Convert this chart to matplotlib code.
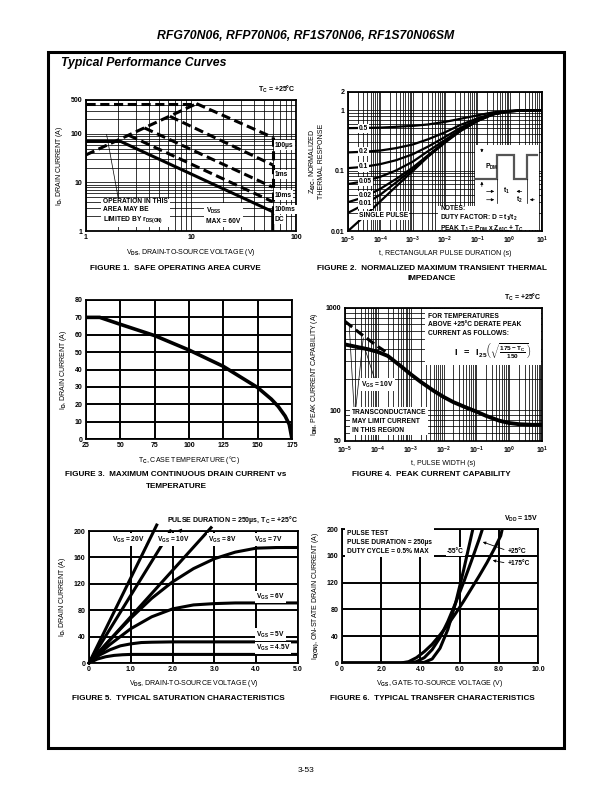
import numpy as np
import matplotlib
matplotlib.use('Agg')
import matplotlib.pyplot as plt
from matplotlib.patches import Rectangle
from matplotlib.ticker import FixedLocator, LogLocator, NullFormatter

plt.rcParams['font.family'] = ['Liberation Sans', 'DejaVu Sans']
plt.rcParams['font.weight'] = 'bold'
plt.rcParams['mathtext.fontset'] = 'custom'
plt.rcParams['mathtext.rm'] = 'Liberation Sans:bold'
plt.rcParams['mathtext.it'] = 'Liberation Sans:bold'
plt.rcParams['mathtext.bf'] = 'Liberation Sans:bold'
plt.rcParams['mathtext.sf'] = 'Liberation Sans:bold'

W, H = 612, 792
FS = 5.0      # tick / axis label size
CAP = 5.9     # figure caption size
LW = 2.2      # curve width
WHITE = dict(facecolor='white', edgecolor='none', pad=0.8)

# ---------------- figure 1: safe operating area ----------------
soa_dc_v = [1, 2.14, 60, 60]
soa_dc_i = [70, 70, 2.5, 1]
soa_rds_v = [1, 11.3]
soa_rds_i = [37, 420]
soa_idm_v = [1, 11.3]
soa_idm_i = [420, 420]
soa_100us_v = [11.3, 60]
soa_100us_i = [420, 85]
soa_1ms_v = [6.3, 60]
soa_1ms_i = [230, 23]
soa_10ms_v = [3.6, 60]
soa_10ms_i = [133, 8]
soa_100ms_v = [2.55, 60]
soa_100ms_i = [94, 4]
soa_vdss_v = [60, 60]
soa_vdss_i = [85, 2.5]

# ---------------- figure 2: transient thermal impedance ----------------
zth_t = [1e-5, 3e-5, 1e-4, 3e-4, 1e-3, 3e-3, 1e-2, 3e-2, 1e-1, 3e-1, 1, 3, 10]
zth_single = [0.010, 0.017, 0.031, 0.054, 0.098, 0.17, 0.29, 0.45, 0.66, 0.85, 0.96, 0.99, 1.0]
zth_d001 = [0.020, 0.027, 0.040, 0.063, 0.105, 0.175, 0.30, 0.46, 0.66, 0.85, 0.96, 0.99, 1.0]
zth_d002 = [0.030, 0.036, 0.050, 0.072, 0.112, 0.18, 0.30, 0.46, 0.67, 0.85, 0.96, 0.99, 1.0]
zth_d005 = [0.060, 0.066, 0.079, 0.100, 0.14, 0.21, 0.32, 0.48, 0.68, 0.86, 0.96, 0.99, 1.0]
zth_d01 = [0.110, 0.115, 0.128, 0.148, 0.186, 0.25, 0.36, 0.51, 0.70, 0.86, 0.96, 0.99, 1.0]
zth_d02 = [0.200, 0.205, 0.215, 0.235, 0.27, 0.33, 0.43, 0.57, 0.73, 0.88, 0.97, 0.99, 1.0]
zth_d05 = [0.505, 0.508, 0.515, 0.53, 0.55, 0.58, 0.64, 0.72, 0.82, 0.92, 0.98, 0.995, 1.0]
zth_labels = ['0.5', '0.2', '0.1', '0.05', '0.02', '0.01', 'SINGLE PULSE']
zth_label_y = [0.50, 0.205, 0.115, 0.066, 0.038, 0.028, 0.018]

# ---------------- figure 3: drain current vs case temperature ----------------
der_tc = [25, 35, 50, 75, 100, 125, 150, 160, 165, 170, 173, 175]
der_id = [70, 70, 66, 59.5, 51.2, 41.8, 29.6, 22.9, 18.7, 13.2, 8.4, 0]

# ---------------- figure 4: peak current capability ----------------
pk_t = [1e-5, 2e-5, 5e-5, 1e-4, 2e-4, 5e-4, 1e-3, 2e-3, 5e-3, 1e-2, 2e-2, 5e-2,
        1e-1, 2e-1, 5e-1, 1, 2, 5, 10]
pk_i = [440, 420, 395, 372, 340, 270, 225, 190, 155, 135, 120, 106,
        97, 88, 79, 75, 73, 72, 72]
pk_gm_t = [1e-5, 3e-5, 1e-4, 2.2e-4]
pk_gm_i = [740, 560, 420, 355]

# ---------------- figure 5: saturation characteristics ----------------
sat_20v_v = [0, 1.62]
sat_20v_i = [0, 209]
sat_10v_v = [0, 1.95]
sat_10v_i = [0, 200]
sat_8v_v = [0, 2.92]
sat_8v_i = [0, 205]
sat_7v_v = [0, 0.5, 1, 1.5, 2, 2.5, 3, 3.5, 4, 4.5, 5]
sat_7v_i = [0, 35, 68, 98, 123, 143, 158, 168, 174, 175, 175]
sat_6v_v = [0, 0.5, 1, 1.5, 2, 2.5, 3, 3.5, 4, 5]
sat_6v_i = [0, 28, 52, 70, 82, 88, 90, 91, 91, 91]
sat_5v_v = [0, 0.25, 0.5, 0.75, 1, 1.25, 1.5, 2, 5]
sat_5v_i = [0, 12, 20, 26, 29, 31, 31.5, 32, 32]
sat_45v_v = [0, 0.2, 0.4, 0.6, 0.8, 1, 5]
sat_45v_i = [0, 6, 9.5, 11.5, 12.5, 13, 13]

# ---------------- figure 6: transfer characteristics ----------------
tr_m55_v = [0, 3.8, 4.2, 4.6, 5.0, 5.4, 5.8, 6.2, 6.6, 6.7]
tr_m55_i = [0, 0, 1, 6, 22, 50, 90, 138, 190, 203]
tr_25_v = [0, 3.4, 3.8, 4.2, 4.6, 5.0, 5.4, 5.8, 6.2, 6.6, 7.0, 7.2]
tr_25_i = [0, 0, 2, 8, 20, 38, 62, 90, 120, 152, 185, 203]
tr_175_v = [0, 3.0, 3.4, 3.8, 4.2, 4.6, 5.0, 5.4, 5.8, 6.2, 6.6, 7.0, 7.4, 7.8, 8.1, 8.2]
tr_175_i = [0, 0, 2, 8, 17, 28, 42, 57, 74, 92, 111, 130, 150, 172, 190, 203]


fig = plt.figure(figsize=(6.12, 7.92), dpi=100)


def px_axes(l, t, r, b):
    return fig.add_axes([l / W, 1 - b / H, (r - l) / W, (b - t) / H])


def ftext(x, y, s, **kw):
    fig.text(x / W, 1 - y / H, s, **kw)


def style(ax):
    for sp in ax.spines.values():
        sp.set_linewidth(1.3)
    ax.tick_params(which='both', length=0, pad=2.5, labelsize=FS)
    ax.set_axisbelow(True)


def log_grid(ax, xt, xl, yt, yl):
    ax.set_xscale('log')
    ax.set_yscale('log')
    ax.xaxis.set_major_locator(FixedLocator(xt))
    ax.yaxis.set_major_locator(FixedLocator(yt))
    ax.set_xticklabels(xl)
    ax.set_yticklabels(yl)
    for a in (ax.xaxis, ax.yaxis):
        a.set_minor_locator(LogLocator(base=10, subs=np.arange(2, 10), numticks=60))
        a.set_minor_formatter(NullFormatter())
    ax.grid(which='both', color='black', lw=0.55)


dash = (0, (3.0, 1.5))

# ===== figure 1 =====
ax1 = px_axes(86, 100, 296, 231)
style(ax1)
log_grid(ax1, [1, 10, 100], ['1', '10', '100'], [1, 10, 100, 500], ['1', '10', '100', '500'])
ax1.set_xlim(1, 100)
ax1.set_ylim(1, 500)
ax1.plot(soa_dc_v, soa_dc_i, color='black', lw=LW, solid_joinstyle='miter')
for v, i in [(soa_rds_v, soa_rds_i), (soa_idm_v, soa_idm_i), (soa_100us_v, soa_100us_i),
             (soa_1ms_v, soa_1ms_i), (soa_10ms_v, soa_10ms_i), (soa_100ms_v, soa_100ms_i),
             (soa_vdss_v, soa_vdss_i)]:
    ax1.plot(v, i, color='black', lw=LW, ls=dash)
for lab, y in [('100µs', 59), ('1ms', 14.6), ('10ms', 5.5), ('100ms', 2.8), ('DC', 1.7)]:
    ax1.text(63, y, lab, fontsize=4.8, va='center', ha='left', bbox=WHITE, zorder=5)
ax1.text(1.45, 2.5, 'OPERATION IN THIS\nAREA MAY BE\nLIMITED BY r$_\\mathrm{DS(ON)}$',
         fontsize=4.8, va='center', ha='left', linespacing=1.15,
         bbox=dict(facecolor='white', edgecolor='none', pad=1.5), zorder=5)
ax1.text(14, 2.1, 'V$_\\mathrm{DSS}$\nMAX = 60V', fontsize=4.8, va='center', ha='left',
         linespacing=1.3, bbox=dict(facecolor='white', edgecolor='none', pad=1.5), zorder=5)
ax1.plot([1.57, 2.03], [98, 4.7], color='black', lw=0.5, zorder=4)
ax1.text(1.0, 1.04, 'T$_\\mathrm{C}$ = +25°C', transform=ax1.transAxes, ha='right',
         va='bottom', fontsize=FS)
ax1.set_xlabel('V$_\\mathrm{DS}$, DRAIN-TO-SOURCE VOLTAGE (V)', fontsize=FS, labelpad=4)
ax1.set_ylabel('I$_\\mathrm{D}$, DRAIN CURRENT (A)', fontsize=FS, labelpad=4)

# ===== figure 2 =====
ax2 = px_axes(348, 92, 542, 231)
style(ax2)
xt2 = [1e-5, 1e-4, 1e-3, 1e-2, 1e-1, 1, 10]
xl2 = ['$10^{-5}$', '$10^{-4}$', '$10^{-3}$', '$10^{-2}$', '$10^{-1}$', '$10^{0}$', '$10^{1}$']
log_grid(ax2, xt2, xl2, [0.01, 0.1, 1, 2], ['0.01', '0.1', '1', '2'])
ax2.set_xlim(1e-5, 10)
ax2.set_ylim(0.01, 2)
for z in [zth_single, zth_d001, zth_d002, zth_d005, zth_d01, zth_d02, zth_d05]:
    ax2.plot(zth_t, z, color='black', lw=1.6)
for lab, y in zip(zth_labels, zth_label_y):
    ax2.text(2.2e-5, y, lab, fontsize=4.8, va='center', ha='left', bbox=WHITE, zorder=5)
ax2.add_patch(Rectangle((0.655, 0.17), 0.33, 0.45, transform=ax2.transAxes,
                        facecolor='white', edgecolor='none', zorder=3))
ax2.add_patch(Rectangle((0.465, 0.01), 0.52, 0.17, transform=ax2.transAxes,
                        facecolor='white', edgecolor='none', zorder=3))
# pulse train sketch
pulse_x = [0.656, 0.768, 0.768, 0.854, 0.854, 0.923, 0.923, 0.974]
pulse_y = [0.375, 0.375, 0.545, 0.545, 0.375, 0.375, 0.545, 0.545]
ax2.plot(pulse_x, pulse_y, color='#555555', lw=1.6, transform=ax2.transAxes, zorder=4,
         solid_joinstyle='miter')
arr = dict(arrowstyle='-|>', color='black', lw=0.5, mutation_scale=4)
ax2.annotate('', xy=(0.69, 0.545), xytext=(0.69, 0.61), xycoords='axes fraction',
             arrowprops=arr, zorder=5)
ax2.annotate('', xy=(0.69, 0.375), xytext=(0.69, 0.30), xycoords='axes fraction',
             arrowprops=arr, zorder=5)
ax2.text(0.705, 0.46, 'P$_\\mathrm{DM}$', transform=ax2.transAxes, fontsize=4.8,
         va='center', zorder=5)
ax2.plot([0.768, 0.768], [0.375, 0.20], color='black', lw=0.5, transform=ax2.transAxes, zorder=4)
ax2.plot([0.923, 0.923], [0.375, 0.20], color='black', lw=0.5, transform=ax2.transAxes, zorder=4)
ax2.annotate('', xy=(0.768, 0.285), xytext=(0.70, 0.285), xycoords='axes fraction',
             arrowprops=arr, zorder=5)
ax2.annotate('', xy=(0.854, 0.285), xytext=(0.91, 0.285), xycoords='axes fraction',
             arrowprops=arr, zorder=5)
ax2.text(0.80, 0.285, 't$_\\mathrm{1}$', transform=ax2.transAxes, fontsize=4.8,
         va='center', zorder=5)
ax2.annotate('', xy=(0.768, 0.225), xytext=(0.70, 0.225), xycoords='axes fraction',
             arrowprops=arr, zorder=5)
ax2.annotate('', xy=(0.923, 0.225), xytext=(0.975, 0.225), xycoords='axes fraction',
             arrowprops=arr, zorder=5)
ax2.text(0.865, 0.222, 't$_\\mathrm{2}$', transform=ax2.transAxes, fontsize=4.8,
         va='center', zorder=5)
ax2.text(0.475, 0.085, 'NOTES:\nDUTY FACTOR: D = t$_\\mathrm{1}$/t$_\\mathrm{2}$\n'
         'PEAK T$_\\mathrm{J}$ = P$_\\mathrm{DM}$ x Z$_\\mathrm{θJC}$ + T$_\\mathrm{C}$',
         transform=ax2.transAxes, fontsize=4.8, va='center', ha='left',
         linespacing=1.1, zorder=5)
ax2.set_xlabel('t, RECTANGULAR PULSE DURATION (s)', fontsize=FS, labelpad=3)
ax2.set_ylabel('Z$_\\mathrm{θJC}$, NORMALIZED\nTHERMAL RESPONSE', fontsize=FS,
               labelpad=4, linespacing=1.1)

# ===== figure 3 =====
ax3 = px_axes(86, 300, 292, 439)
style(ax3)
ax3.set_xlim(25, 175)
ax3.set_ylim(0, 80)
ax3.set_xticks([25, 50, 75, 100, 125, 150, 175])
ax3.set_yticks([0, 10, 20, 30, 40, 50, 60, 70, 80])
ax3.grid(color='black', lw=1.4)
ax3.plot(der_tc, der_id, color='black', lw=LW + 0.4)
ax3.set_xlabel('T$_\\mathrm{C}$, CASE TEMPERATURE (°C)', fontsize=FS, labelpad=3)
ax3.set_ylabel('I$_\\mathrm{D}$, DRAIN CURRENT (A)', fontsize=FS, labelpad=4)

# ===== figure 4 =====
ax4 = px_axes(345, 308, 542, 441)
style(ax4)
log_grid(ax4, xt2, xl2, [50, 100, 1000], ['50', '100', '1000'])
ax4.set_xlim(1e-5, 10)
ax4.set_ylim(50, 1000)
ax4.plot(pk_t, pk_i, color='black', lw=LW + 0.6)
ax4.plot(pk_gm_t, pk_gm_i, color='black', lw=LW, ls=dash)
ax4.add_patch(Rectangle((0.405, 0.575), 0.59, 0.42, transform=ax4.transAxes,
                        facecolor='white', edgecolor='none', zorder=3))
ax4.text(0.42, 0.965, 'FOR TEMPERATURES\nABOVE +25°C DERATE PEAK\nCURRENT AS FOLLOWS:',
         transform=ax4.transAxes, fontsize=4.8, va='top', ha='left', linespacing=1.3, zorder=5)
ax4.text(0.555, 0.675,
         r'$\mathrm{I\ \ =\ \ I_{25}}\left(\sqrt{\frac{\mathrm{175-T_C}}{\mathrm{150}}}\right)$',
         transform=ax4.transAxes, fontsize=6.6, va='center', ha='left', zorder=5)
ax4.text(9.5e-5, 178, 'V$_\\mathrm{GS}$ = 10V', fontsize=4.8, va='center', ha='center',
         bbox=WHITE, zorder=5)
ax4.text(1.6e-5, 78, 'TRANSCONDUCTANCE\nMAY LIMIT CURRENT\nIN THIS REGION', fontsize=4.8,
         va='center', ha='left', linespacing=1.35,
         bbox=dict(facecolor='white', edgecolor='none', pad=1.2), zorder=5)
ax4.plot([1.9e-5, 1.35e-5], [100, 660], color='black', lw=0.5, zorder=4)
ax4.plot([2.1e-5, 3.6e-5], [100, 510], color='black', lw=0.5, zorder=4)
ax4.plot([8.5e-5, 4.2e-5], [190, 385], color='black', lw=0.5, zorder=4)
ax4.text(1.0, 1.04, 'T$_\\mathrm{C}$ = +25°C', transform=ax4.transAxes, ha='right',
         va='bottom', fontsize=FS)
ax4.set_xlabel('t, PULSE WIDTH (s)', fontsize=FS, labelpad=3)
ax4.set_ylabel('I$_\\mathrm{DM}$, PEAK CURRENT CAPABILITY (A)', fontsize=FS, labelpad=4)

# ===== figure 5 =====
ax5 = px_axes(89, 531, 298, 663)
style(ax5)
ax5.set_xlim(0, 5)
ax5.set_ylim(0, 200)
ax5.set_xticks([0, 1, 2, 3, 4, 5])
ax5.set_xticklabels(['0', '1.0', '2.0', '3.0', '4.0', '5.0'])
ax5.set_yticks([0, 40, 80, 120, 160, 200])
ax5.grid(color='black', lw=1.4)
for v, i in [(sat_20v_v, sat_20v_i), (sat_10v_v, sat_10v_i), (sat_8v_v, sat_8v_i)]:
    ax5.plot(v, i, color='black', lw=LW, clip_on=False)
for v, i in [(sat_7v_v, sat_7v_i), (sat_6v_v, sat_6v_i), (sat_5v_v, sat_5v_i),
             (sat_45v_v, sat_45v_i)]:
    ax5.plot(v, i, color='black', lw=LW)
for lab, x, y in [('V$_\\mathrm{GS}$ = 20V', 0.93, 187), ('V$_\\mathrm{GS}$ = 10V', 2.02, 187),
                  ('V$_\\mathrm{GS}$ = 8V', 3.2, 187), ('V$_\\mathrm{GS}$ = 7V', 4.3, 187),
                  ('V$_\\mathrm{GS}$ = 6V', 4.35, 100), ('V$_\\mathrm{GS}$ = 5V', 4.35, 43),
                  ('V$_\\mathrm{GS}$ = 4.5V', 4.4, 23)]:
    ax5.text(x, y, lab, fontsize=4.8, va='center', ha='center', bbox=WHITE, zorder=5)
ax5.annotate('', xy=(2.28, 207), xytext=(2.12, 196), xycoords='data',
             arrowprops=dict(arrowstyle='-|>', color='black', lw=0.8, mutation_scale=5),
             annotation_clip=False, zorder=6)
ax5.text(1.0, 1.04, 'PULSE DURATION = 250µs, T$_\\mathrm{C}$ = +25°C', transform=ax5.transAxes,
         ha='right', va='bottom', fontsize=FS)
ax5.set_xlabel('V$_\\mathrm{DS}$, DRAIN-TO-SOURCE VOLTAGE (V)', fontsize=FS, labelpad=3)
ax5.set_ylabel('I$_\\mathrm{D}$, DRAIN CURRENT (A)', fontsize=FS, labelpad=4)

# ===== figure 6 =====
ax6 = px_axes(342, 529, 538, 663)
style(ax6)
ax6.set_xlim(0, 10)
ax6.set_ylim(0, 200)
ax6.set_xticks([0, 2, 4, 6, 8, 10])
ax6.set_xticklabels(['0', '2.0', '4.0', '6.0', '8.0', '10.0'])
ax6.set_yticks([0, 40, 80, 120, 160, 200])
ax6.grid(color='black', lw=1.4)
for v, i in [(tr_m55_v, tr_m55_i), (tr_25_v, tr_25_i), (tr_175_v, tr_175_i)]:
    ax6.plot(v, i, color='black', lw=LW)
ax6.text(0.25, 180, 'PULSE TEST\nPULSE DURATION = 250µs\nDUTY CYCLE = 0.5% MAX', fontsize=4.8,
         va='center', ha='left', linespacing=1.35,
         bbox=dict(facecolor='white', edgecolor='none', pad=1.5), zorder=5)
ax6.text(5.35, 166, '-55°C', fontsize=4.8, va='center', ha='left', bbox=WHITE, zorder=5)
ax6.text(8.45, 166, '+25°C', fontsize=4.8, va='center', ha='left', zorder=5)
ax6.text(8.45, 148, '+175°C', fontsize=4.8, va='center', ha='left', zorder=5)
arr6 = dict(arrowstyle='-|>', color='black', lw=0.6, mutation_scale=4)
ax6.annotate('', xy=(7.05, 182), xytext=(8.4, 168), arrowprops=arr6, zorder=6)
ax6.annotate('', xy=(7.55, 154), xytext=(8.4, 149), arrowprops=arr6, zorder=6)
ax6.text(1.0, 1.04, 'V$_\\mathrm{DD}$ = 15V', transform=ax6.transAxes, ha='right',
         va='bottom', fontsize=FS)
ax6.set_xlabel('V$_\\mathrm{GS}$, GATE-TO-SOURCE VOLTAGE (V)', fontsize=FS, labelpad=3)
ax6.set_ylabel('I$_\\mathrm{D(ON)}$, ON-STATE DRAIN CURRENT (A)', fontsize=FS, labelpad=4)

# ===== page furniture =====
ftext(306, 36, 'RFG70N06, RFP70N06, RF1S70N06, RF1S70N06SM', ha='center', va='center',
      fontsize=8.8, style='italic')
fig.add_artist(Rectangle((48 / W, 1 - 748 / H), (564 - 48) / W, (748 - 52) / H,
                         transform=fig.transFigure, fill=False, lw=2.2, color='black'))
ftext(61, 63, 'Typical Performance Curves', ha='left', va='center', fontsize=8.8,
      style='italic')
ftext(175, 268, 'FIGURE 1.  SAFE OPERATING AREA CURVE', ha='center', va='center', fontsize=CAP)
ftext(432, 268, 'FIGURE 2.  NORMALIZED MAXIMUM TRANSIENT THERMAL', ha='center', va='center',
      fontsize=CAP)
ftext(432, 279, 'IMPEDANCE', ha='center', va='center', fontsize=CAP)
ftext(176, 475, 'FIGURE 3.  MAXIMUM CONTINUOUS DRAIN CURRENT vs', ha='center', va='center',
      fontsize=CAP)
ftext(176, 486, 'TEMPERATURE', ha='center', va='center', fontsize=CAP)
ftext(431, 475, 'FIGURE 4.  PEAK CURRENT CAPABILITY', ha='center', va='center', fontsize=CAP)
ftext(178, 698, 'FIGURE 5.  TYPICAL SATURATION CHARACTERISTICS', ha='center', va='center',
      fontsize=CAP)
ftext(432, 698, 'FIGURE 6.  TYPICAL TRANSFER CHARACTERISTICS', ha='center', va='center',
      fontsize=CAP)
ftext(306, 770, '3-53', ha='center', va='center', fontsize=6, fontweight='normal')

fig.savefig('out.png', dpi=100)
